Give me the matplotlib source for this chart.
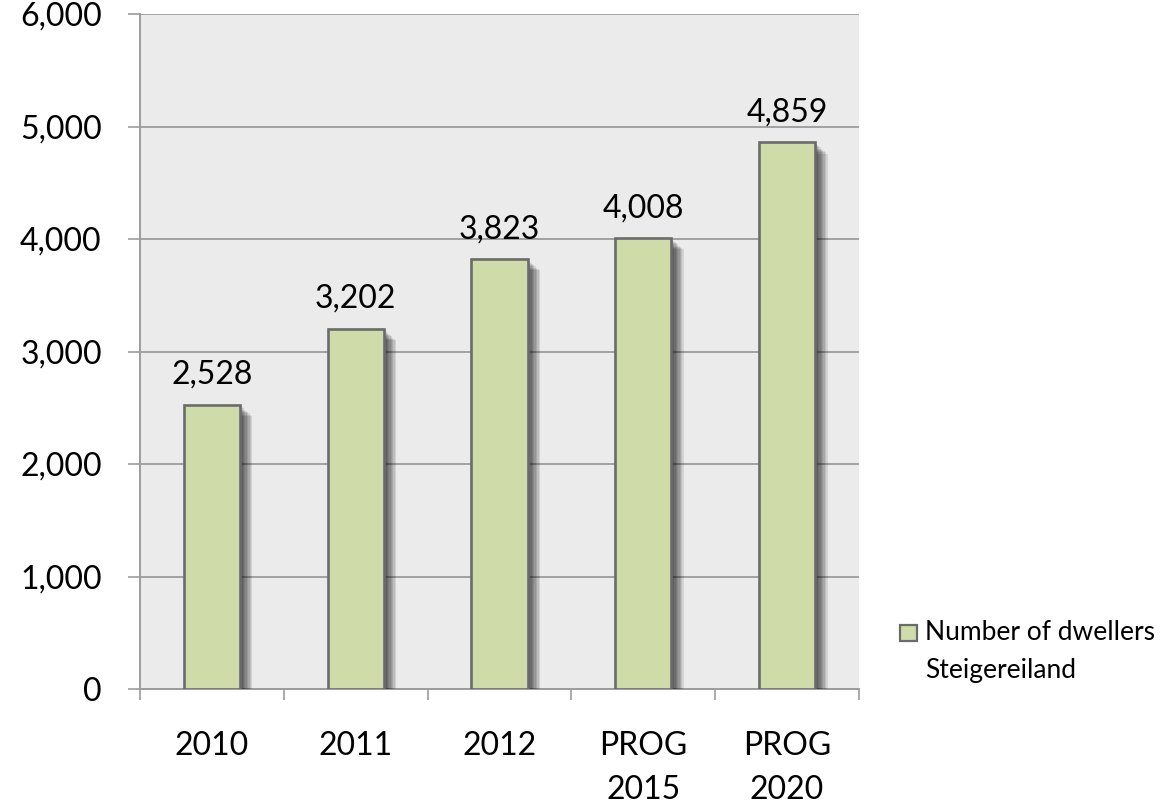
import matplotlib
matplotlib.use("Agg")
import matplotlib.pyplot as plt
import matplotlib.patheffects as pe
from matplotlib.patches import Rectangle
from matplotlib.ticker import FuncFormatter, FixedLocator

categories = ["2010", "2011", "2012", "PROG\n2015", "PROG\n2020"]
dwellers = [2528, 3202, 3823, 4008, 4859]
series_name = "Number of dwellers\nSteigereiland"
y_ticks = [0, 1000, 2000, 3000, 4000, 5000, 6000]

plt.rcParams['font.family'] = ['Lato', 'DejaVu Sans']

BAR_FACE = "#cfdca9"
BAR_EDGE = "#6b6b6b"
GRID = "#9c9c9c"
PLOT_BG = "#ebebeb"
FS = 23

fig = plt.figure(figsize=(11.64, 8.08), dpi=100)
ax = fig.add_axes([140 / 1164, 1 - 689 / 808, 719 / 1164, 675 / 808])
ax.set_facecolor(PLOT_BG)

x = list(range(len(categories)))

# soft drop shadow to the lower right of each bar
shadow = [pe.SimplePatchShadow(offset=(d, -0.9 * d), shadow_rgbFace="black", alpha=0.1)
          for d in (1, 2, 3, 4, 5, 6, 7, 8, 9)]
bars = ax.bar(x, dwellers, width=0.39, color=BAR_FACE, edgecolor=BAR_EDGE,
              linewidth=1.9, zorder=3)
for b in bars:
    b.set_path_effects(shadow + [pe.Normal()])

for xi, v in zip(x, dwellers):
    ax.annotate(f"{v:,}", xy=(xi, v), xytext=(0, 15), textcoords="offset points",
                ha="center", va="baseline", fontsize=FS, color="black", zorder=4)

ax.set_xlim(-0.5, len(categories) - 0.5)
ax.set_ylim(0, 6000)

# y axis
ax.set_yticks(y_ticks)
ax.yaxis.set_major_formatter(FuncFormatter(lambda v, p: f"{int(v):,}"))
ax.tick_params(axis="y", which="major", direction="out", length=8.5, width=1.2,
               color=GRID, labelsize=FS, pad=19)
ax.yaxis.grid(True, color=GRID, linewidth=1.3, zorder=1)
ax.set_axisbelow(True)

# x axis: tick marks on category boundaries, labels at centres
ax.xaxis.set_major_locator(FixedLocator([i - 0.5 for i in range(len(categories) + 1)]))
ax.xaxis.set_major_formatter(FuncFormatter(lambda v, p: ""))
ax.xaxis.set_minor_locator(FixedLocator(x))
ax.set_xticklabels(categories, minor=True)
ax.tick_params(axis="x", which="major", direction="out", length=8, width=1.2, color=GRID)
ax.tick_params(axis="x", which="minor", length=0, labelsize=FS, pad=30)
for lbl in ax.get_xticklabels(minor=True):
    lbl.set_linespacing(1.6)

for side in ("top", "right"):
    ax.spines[side].set_visible(False)
for side in ("left", "bottom"):
    ax.spines[side].set_color(GRID)
    ax.spines[side].set_linewidth(1.4)

# legend
fig.patches.append(Rectangle((900 / 1164, 1 - 641 / 808), 17 / 1164, 16 / 808,
                             transform=fig.transFigure, facecolor=BAR_FACE,
                             edgecolor=BAR_EDGE, linewidth=1.6))
fig.text(925 / 1164, 1 - 620 / 808, series_name, fontsize=19, va="top", ha="left",
         linespacing=1.65)

fig.savefig("out.png", dpi=100)
